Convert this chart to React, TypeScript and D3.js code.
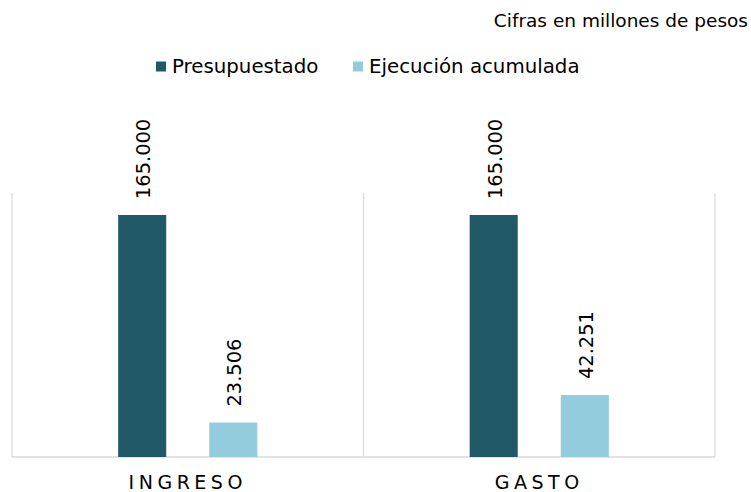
import * as d3 from "d3";

const categories = ["INGRESO", "GASTO"];
const seriesNames = ["Presupuestado", "Ejecución acumulada"];
const presupuestado = [165000, 165000];
const ejecucion = [23506, 42251];
const colors = ["#215968", "#93CDDD"];

const W = 751;
const H = 492;
const FONT = "'DejaVu Sans', Verdana, sans-serif";

const fmt = (v: number) => d3.format(",")(v).replace(/,/g, ".");

export default function App() {
  const left = 12, right = 715, top = 193, bottom = 457;

  const x = d3.scaleBand<string>().domain(categories).range([left, right]).padding(0);
  // bars 48px wide, 43px apart, inset ~106px from each band edge
  const inner = d3
    .scaleBand<string>()
    .domain(seriesNames)
    .range([0, x.bandwidth()])
    .paddingInner(0.4725)
    .paddingOuter(1.165);
  const y = d3.scaleLinear().domain([0, 180000]).range([bottom, top]);

  const series = [presupuestado, ejecucion];

  return (
    <svg width={W} height={H} style={{ position: "absolute", left: 0, top: 0, background: "#fff" }}>
      <text x={748} y={27} textAnchor="end" fontFamily={FONT} fontSize={18.5} fill="#000">
        Cifras en millones de pesos
      </text>

      {/* legend */}
      {seriesNames.map((name, i) => {
        const lx = i === 0 ? 156 : 353;
        return (
          <g key={name}>
            <rect x={lx} y={61.5} width={10} height={10} fill={colors[i]} />
            <text x={lx + 16} y={73} fontFamily={FONT} fontSize={19.8} fill="#000">{name}</text>
          </g>
        );
      })}

      {/* category separators */}
      {[left, ...categories.map((c) => (x(c) ?? 0) + x.bandwidth())].map((gx, i) => (
        <line key={i} x1={gx} x2={gx} y1={top} y2={bottom} stroke="#d9d9d9" strokeWidth={1.2} />
      ))}
      <line x1={left} x2={right} y1={bottom} y2={bottom} stroke="#d9d9d9" strokeWidth={1.5} />

      {categories.map((c, ci) => (
        <g key={c} transform={`translate(${x(c)},0)`}>
          {seriesNames.map((s, si) => {
            const v = series[si][ci];
            const bx = inner(s) ?? 0;
            const bw = inner.bandwidth();
            const by = y(v);
            const cx = bx + bw / 2;
            return (
              <g key={s}>
                <rect x={bx} y={by} width={bw} height={bottom - by} fill={colors[si]} />
                <text
                  transform={`translate(${cx + 8},${by - 16}) rotate(-90)`}
                  fontFamily={FONT}
                  fontSize={19.4}
                  fill="#000"
                >
                  {fmt(v)}
                </text>
              </g>
            );
          })}
          <text
            x={x.bandwidth() / 2}
            y={489}
            textAnchor="middle"
            fontFamily={FONT}
            fontSize={19}
            letterSpacing={4.5}
            fill="#000"
          >
            {c}
          </text>
        </g>
      ))}
    </svg>
  );
}
